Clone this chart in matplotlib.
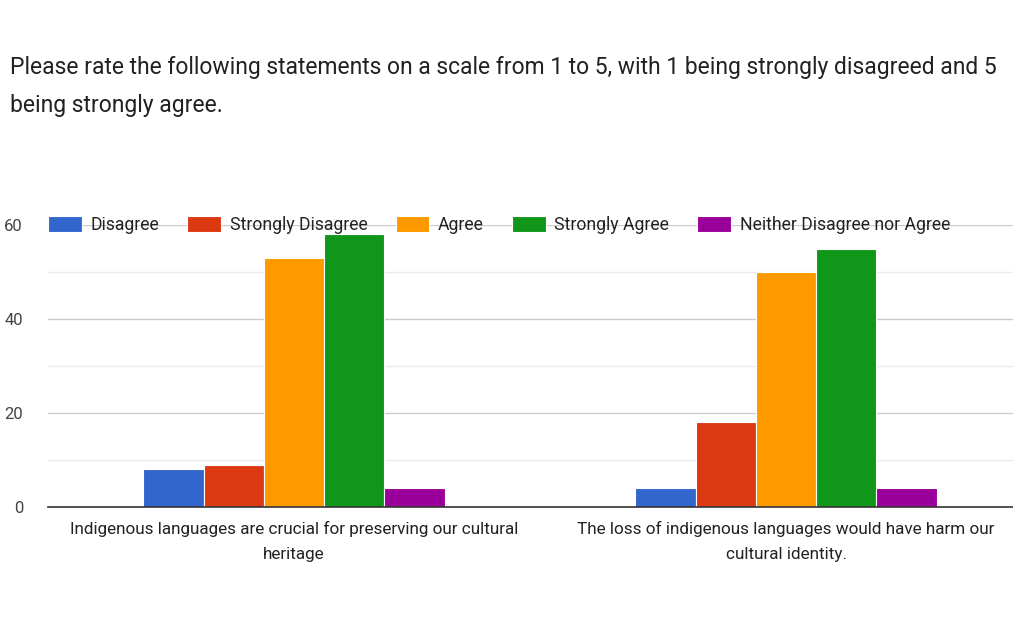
import matplotlib
matplotlib.use("Agg")
import matplotlib.pyplot as plt
import numpy as np

plt.rcParams['font.family'] = ['Roboto', 'DejaVu Sans']

title = "Please rate the following statements on a scale from 1 to 5, with 1 being strongly disagreed and 5\nbeing strongly agree."
categories = ["Indigenous languages are crucial for preserving our cultural\nheritage",
              "The loss of indigenous languages would have harm our\ncultural identity."]
series_names = ["Disagree", "Strongly Disagree", "Agree", "Strongly Agree", "Neither Disagree nor Agree"]
disagree = [8, 4]
strongly_disagree = [9, 18]
agree = [53, 50]
strongly_agree = [58, 55]
neither = [4, 4]
series_values = [disagree, strongly_disagree, agree, strongly_agree, neither]
colors = ["#3366cc", "#dc3912", "#ff9900", "#109618", "#990099"]
yticks = [0, 20, 40, 60]

W, H = 1013, 621
fig = plt.figure(figsize=(W / 100, H / 100), dpi=100)
fig.text(10 / W, 1 - 56 / H, title, ha='left', va='top', fontsize=16.5,
         color='#202124', linespacing=1.85)

ax_left, ax_right = 48, 1032
ax_top, ax_bot = 225, 507
ax = fig.add_axes([ax_left / W, 1 - ax_bot / H, (ax_right - ax_left) / W, (ax_bot - ax_top) / H])

x = np.arange(len(categories))
bw = 0.1225
n = len(series_names)
for i, (name, vals, c) in enumerate(zip(series_names, series_values, colors)):
    ax.bar(x + (i - (n - 1) / 2) * bw, vals, width=bw, color=c, edgecolor='white',
           linewidth=0.8, label=name, zorder=3)

ax.set_xlim(-0.5, 1.5)
ax.set_ylim(0, 60)
ax.set_yticks(yticks)
ax.set_yticks([10, 30, 50], minor=True)
ax.yaxis.grid(True, which='major', color='#cccccc', linewidth=1, zorder=0)
ax.yaxis.grid(True, which='minor', color='#ebebeb', linewidth=1, zorder=0)
ax.tick_params(axis='y', which='both', length=0, labelsize=12, colors='#444444', pad=18)
ax.set_xticks(x)
ax.set_xticklabels(categories, fontsize=12.3, color='#222222', linespacing=1.8)
ax.tick_params(axis='x', length=0, pad=10)
for s in ['top', 'right', 'left']:
    ax.spines[s].set_visible(False)
ax.spines['bottom'].set_color('#333333')
ax.spines['bottom'].set_linewidth(1.2)
ax.spines['bottom'].set_zorder(4)

leg = ax.legend(loc='center left', bbox_to_anchor=(0.0, 1.0), ncol=5, frameon=False,
                fontsize=12.7, handlelength=1.9, handleheight=1.0, handletextpad=0.5,
                columnspacing=1.6, borderaxespad=0, borderpad=0, labelcolor='#222222')
leg.set_zorder(5)

fig.savefig("out.png", dpi=100, facecolor='white')
